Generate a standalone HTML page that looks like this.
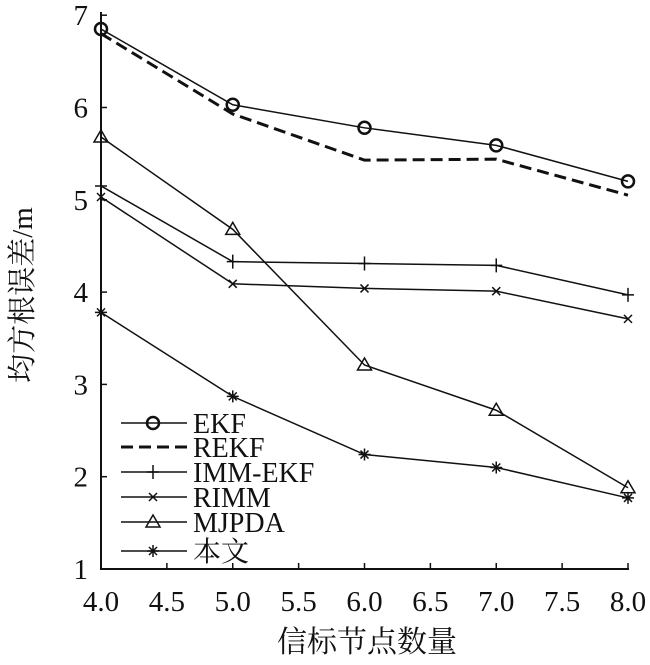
<!DOCTYPE html>
<html><head><meta charset="utf-8"><style>
body{margin:0;background:#fff}
text{font-family:"Liberation Serif","Noto Serif CJK SC",serif;fill:#111}
</style></head><body>
<svg id="chart" width="650" height="660" xmlns="http://www.w3.org/2000/svg"></svg>
<script>
const xValues=[4,5,6,7,8];
const xTicks=[4.0,4.5,5.0,5.5,6.0,6.5,7.0,7.5,8.0];
const yTicks=[1,2,3,4,5,6,7];
const seriesNames=["EKF","REKF","IMM-EKF","RIMM","MJPDA","本文"];
const ekf=[6.85,6.03,5.78,5.59,5.2];
const rekf=[6.8,5.93,5.43,5.44,5.05];
const immEkf=[5.15,4.33,4.31,4.29,3.97];
const rimm=[5.03,4.09,4.04,4.01,3.71];
const mjpda=[5.68,4.68,3.21,2.72,1.88];
const ours=[3.78,2.87,2.24,2.1,1.77];
const allSeries=[ekf,rekf,immEkf,rimm,mjpda,ours];
const markers=["circle","none","plus","x","triangle","star"];
const svg=document.getElementById('chart');
const NS="http://www.w3.org/2000/svg";
const X=v=>101+(v-4)*131.75;
const Y=v=>569-(v-1)*92.3;
function mk(t,a,p){const e=document.createElementNS(NS,t);for(const k in a)e.setAttribute(k,a[k]);(p||svg).appendChild(e);return e;}
function marker(type,x,y,g){
 const s={stroke:"#111","stroke-width":1.5,fill:"none"};
 if(type==="circle")mk("circle",{cx:x,cy:y,r:6,"stroke-width":2.5,stroke:"#111",fill:"none"},g);
 else if(type==="plus"){mk("path",Object.assign({d:`M${x-6} ${y}H${x+6}M${x} ${y-7}V${y+7}`},s),g);}
 else if(type==="x"){mk("path",Object.assign({d:`M${x-4} ${y-4}L${x+4} ${y+4}M${x-4} ${y+4}L${x+4} ${y-4}`},s),g);}
 else if(type==="triangle"){mk("path",Object.assign({d:`M${x} ${y-7}L${x+7} ${y+5}L${x-7} ${y+5}Z`},s),g);}
 else if(type==="star"){mk("path",Object.assign({d:`M${x-6} ${y}H${x+6}M${x} ${y-6}V${y+6}M${x-4} ${y-4}L${x+4} ${y+4}M${x-4} ${y+4}L${x+4} ${y-4}`,"stroke-width":2},s),g);}
}
const ax=mk("path",{d:`M101 12V569H629`,stroke:"#111","stroke-width":2,fill:"none"});


xTicks.forEach(t=>{
 const l=mk("line",{x1:X(t),x2:X(t),y1:569,y2:563,stroke:"#111","stroke-width":1.5});
 
 
 const tx=mk("text",{x:X(t),y:611,"text-anchor":"middle","font-size":29});
 tx.textContent=t.toFixed(1);
 
 
});
yTicks.forEach(t=>{
 const l=mk("line",{x1:101,x2:107,y1:Y(t),y2:Y(t),stroke:"#111","stroke-width":1.5});
 
 
 const tx=mk("text",{x:88,y:Y(t)+10,"text-anchor":"end","font-size":29});
 tx.textContent=t;
 
 
});
const xt=mk("text",{x:367,y:652,"text-anchor":"middle","font-size":30});
xt.textContent="信标节点数量";


const yt=mk("text",{x:0,y:0,"text-anchor":"middle","font-size":29,transform:"translate(32 295) rotate(-90)"});
yt.textContent="均方根误差/m";


allSeries.forEach((vals,i)=>{
 const g=mk("g",{});
 
 
 const d=vals.map((v,j)=>(j?"L":"M")+X(xValues[j])+" "+Y(v)).join("");
 mk("path",{d:d,stroke:"#111",fill:"none","stroke-width":i===1?3:1.5,"stroke-dasharray":i===1?"12 6":"none"},g);
 vals.forEach((v,j)=>marker(markers[i],X(xValues[j]),Y(v),g));
});
const legY=[423,447,472,497,522,551];
seriesNames.forEach((n,i)=>{
 const g=mk("g",{});
 
 
 mk("line",{x1:121,x2:187,y1:legY[i],y2:legY[i],stroke:"#111","stroke-width":i===1?3:1.5,"stroke-dasharray":i===1?"12 6":"none"},g);
 marker(markers[i],153,legY[i],g);
 const t=mk("text",{x:193,y:legY[i]+10,"font-size":28},g);
 t.textContent=n;
});
</script>
</body></html>
